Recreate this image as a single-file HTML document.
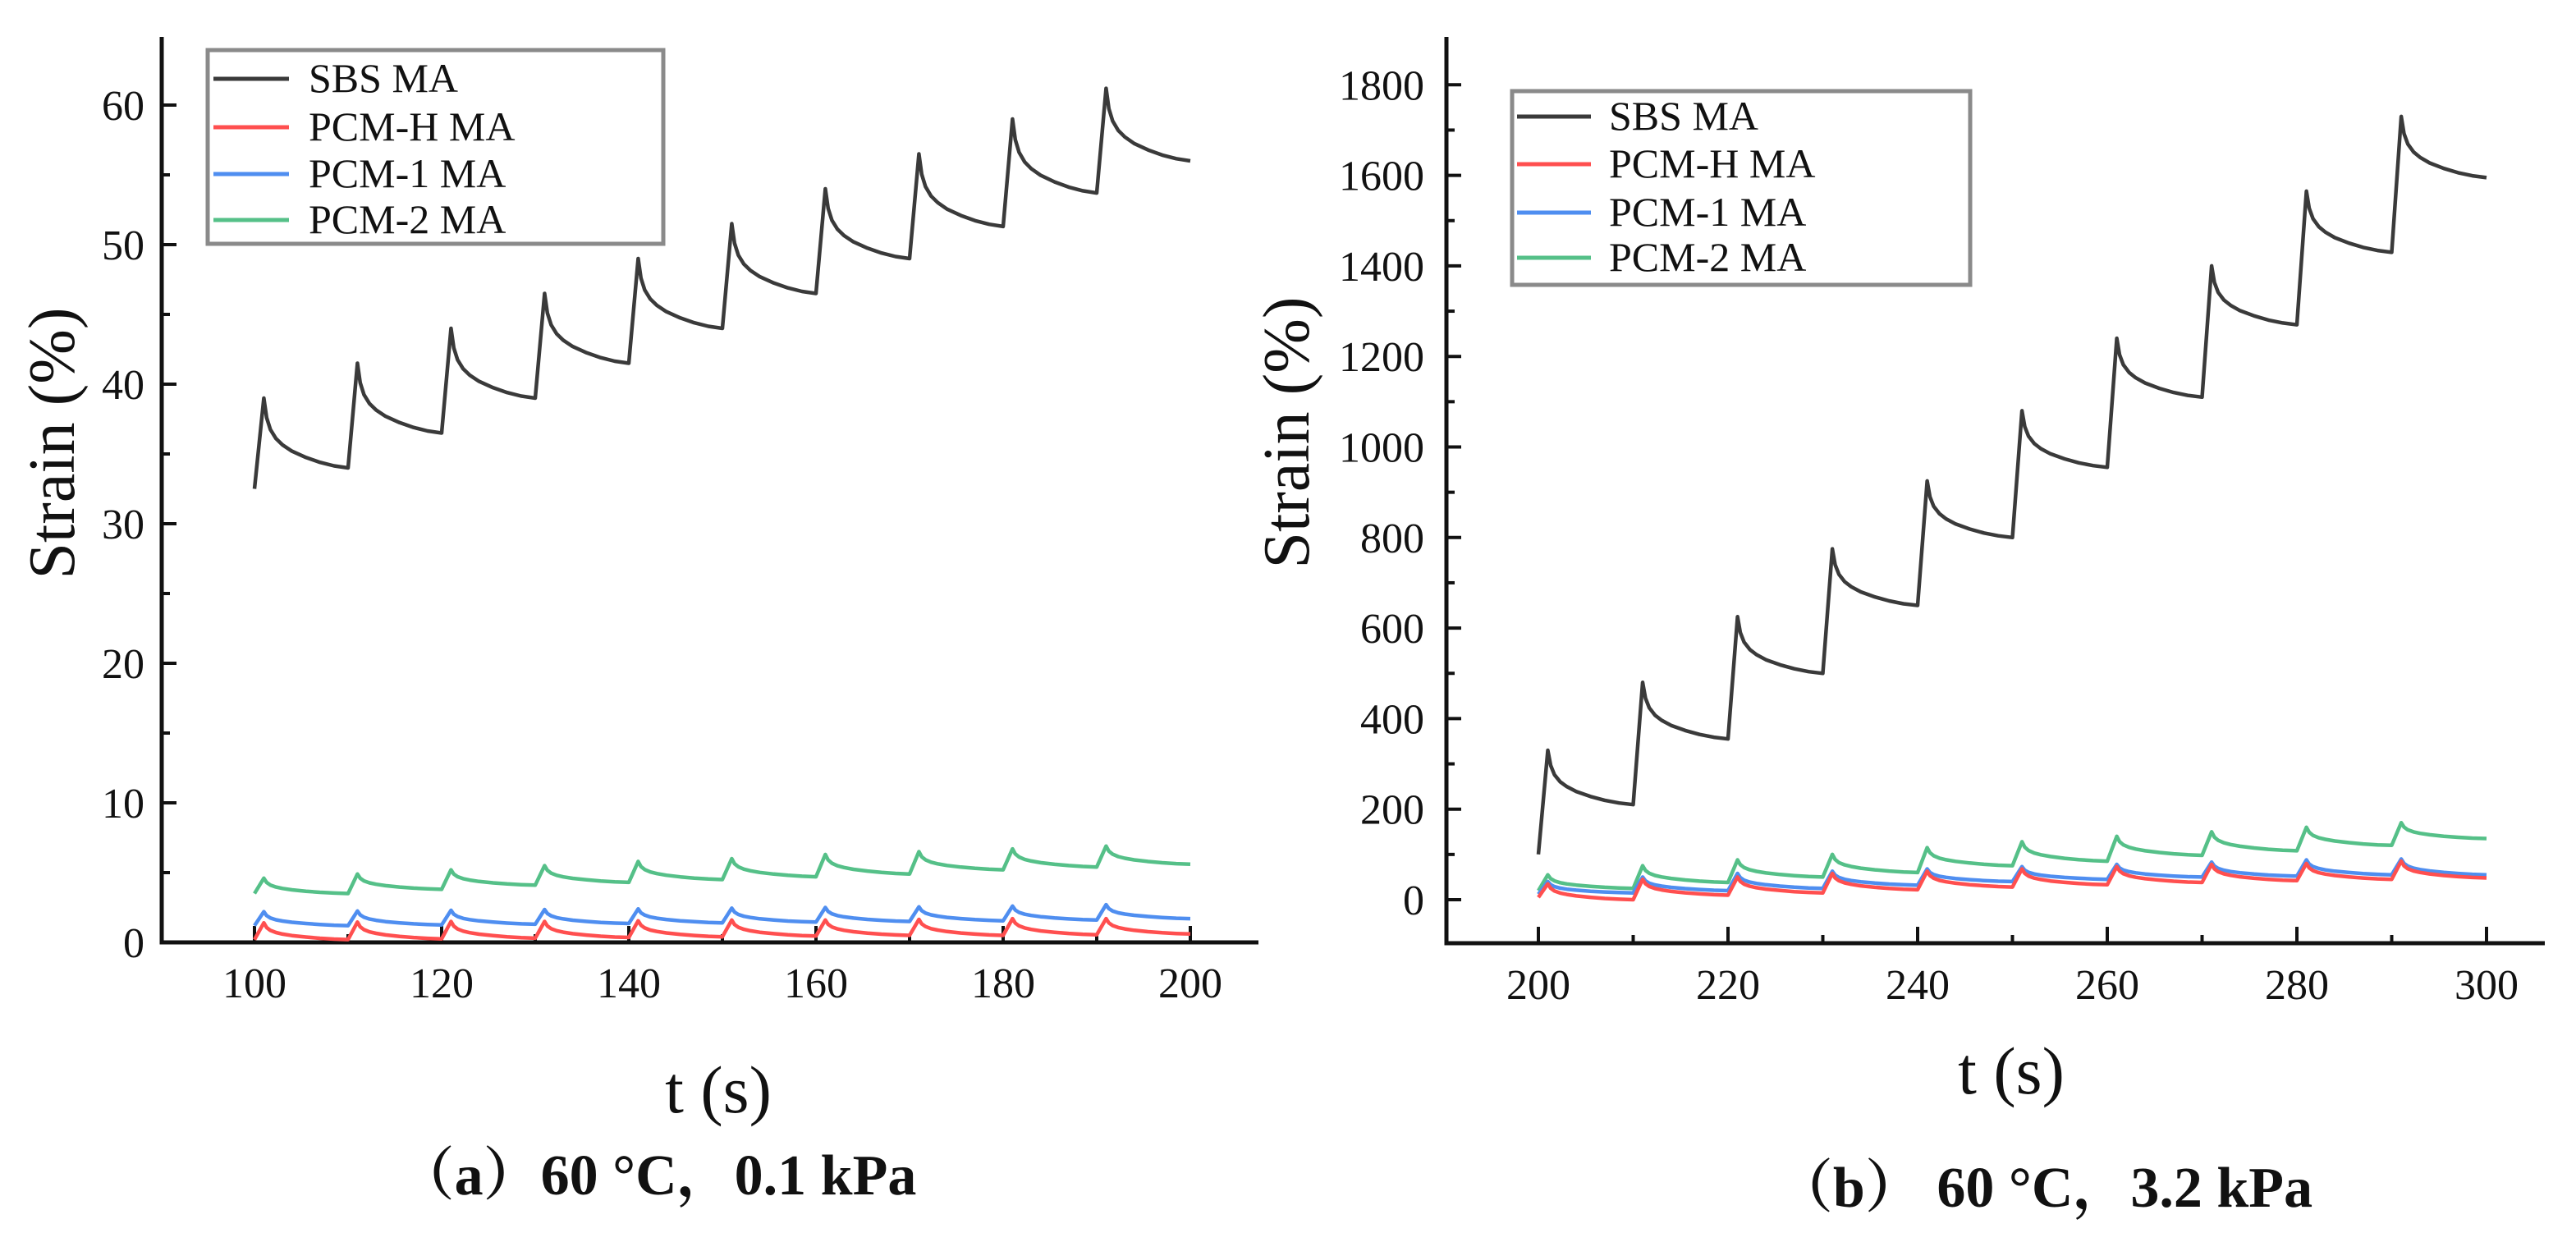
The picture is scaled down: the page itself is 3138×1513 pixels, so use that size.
<!DOCTYPE html>
<html><head><meta charset="utf-8">
<style>
html,body{margin:0;padding:0;background:#fff;}
svg{display:block;}
text{font-family:"Liberation Serif","Noto Serif CJK SC",serif;fill:#111;}
</style></head>
<body>
<svg id="fig" width="3138" height="1513" viewBox="0 0 3138 1513" xmlns="http://www.w3.org/2000/svg">
</svg>
<script>
// ---- Panel (a) data: 60 °C, 0.1 kPa ----
const aTimeStart = 100;
const aSBSStart = 32.5;
const aSBSPeaks = [39, 41.5, 44, 46.5, 49, 51.5, 54, 56.5, 59, 61.2];
const aSBSEnds  = [34, 36.5, 39, 41.5, 44, 46.5, 49, 51.3, 53.7, 56];
const aHStart = 0.2;
const aHPeaks = [1.4, 1.45, 1.5, 1.5, 1.55, 1.6, 1.6, 1.65, 1.7, 1.7];
const aHEnds  = [0.2, 0.25, 0.3, 0.35, 0.4, 0.45, 0.5, 0.5, 0.55, 0.6];
const a1Start = 1.2;
const a1Peaks = [2.2, 2.25, 2.3, 2.35, 2.4, 2.45, 2.5, 2.55, 2.6, 2.7];
const a1Ends  = [1.2, 1.25, 1.3, 1.35, 1.4, 1.45, 1.5, 1.55, 1.6, 1.7];
const a2Start = 3.5;
const a2Peaks = [4.6, 4.9, 5.2, 5.5, 5.8, 6.0, 6.3, 6.5, 6.7, 6.9];
const a2Ends  = [3.5, 3.8, 4.1, 4.3, 4.5, 4.7, 4.9, 5.2, 5.4, 5.6];
const aXTicks = [100, 120, 140, 160, 180, 200];
const aYTicks = [0, 10, 20, 30, 40, 50, 60];

// ---- Panel (b) data: 60 °C, 3.2 kPa ----
const bTimeStart = 200;
const bSBSStart = 100;
const bSBSPeaks = [330, 480, 625, 775, 925, 1080, 1240, 1400, 1565, 1730];
const bSBSEnds  = [210, 355, 500, 650, 800, 955, 1110, 1270, 1430, 1595];
const bHStart = 5;
const bHPeaks = [35, 45, 50, 58, 63, 68, 73, 78, 80, 85];
const bHEnds  = [0, 10, 15, 22, 28, 33, 38, 42, 45, 48];
const b1Start = 12;
const b1Peaks = [40, 50, 58, 63, 68, 73, 78, 83, 88, 90];
const b1Ends  = [15, 20, 25, 32, 40, 45, 50, 52, 55, 55];
const b2Start = 20;
const b2Peaks = [55, 75, 88, 100, 115, 128, 140, 150, 160, 170];
const b2Ends  = [25, 38, 50, 60, 75, 85, 98, 108, 120, 135];
const bXTicks = [200, 220, 240, 260, 280, 300];
const bYTicks = [0, 200, 400, 600, 800, 1000, 1200, 1400, 1600, 1800];

const seriesNames = ["SBS MA", "PCM-H MA", "PCM-1 MA", "PCM-2 MA"];
const COLORS = ["#3a3a3a", "#ff4f4f", "#4f8ef0", "#55c088"];
const NS = "http://www.w3.org/2000/svg";
const svg = document.getElementById("fig");

function mk(tag, attrs, parent) {
  const e = document.createElementNS(NS, tag);
  for (const k in attrs) e.setAttribute(k, attrs[k]);
  (parent || svg).appendChild(e);
  return e;
}
const decayDt = [0, 0.3, 0.7, 1.3, 2, 3, 4.5, 6, 7.5, 9];
const decayFr = [0, 0.28, 0.45, 0.58, 0.67, 0.76, 0.85, 0.92, 0.97, 1];

function buildPanel(p) {
  const g = mk("g", {});
  
  
  const X = t => p.x0 + (t - p.t0) * p.xs;
  const Y = v => p.y0 - v * p.ys;
  const ax = mk("path", {d: `M${p.axX},${p.axTop} V${p.axBot} H${p.axRight}`, fill: "none", stroke: "#111", "stroke-width": 5}, g);
  
  
  const yStep = p.yTicks[1] - p.yTicks[0];
  for (let i = 0; i < p.yTicks.length; i++) {
    const v = p.yTicks[i];
    const tk = mk("line", {x1: p.axX, x2: p.axX + 18, y1: Y(v), y2: Y(v), stroke: "#111", "stroke-width": 4}, g);
    
    
    const mv = v + yStep / 2;
    if (Y(mv) > p.axTop + 5) {
      const mt = mk("line", {x1: p.axX, x2: p.axX + 10, y1: Y(mv), y2: Y(mv), stroke: "#111", "stroke-width": 4}, g);
      
      
    }
    if (i === 0 && Y(v - yStep / 2) < p.axBot - 5) {
      const mt2 = mk("line", {x1: p.axX, x2: p.axX + 10, y1: Y(v - yStep / 2), y2: Y(v - yStep / 2), stroke: "#111", "stroke-width": 4}, g);
      
      
    }
    const lb = mk("text", {x: p.yLabX, y: Y(v) + 18, "text-anchor": "end", "font-size": 52}, g);
    lb.textContent = v;
    
    
  }
  const xStep = p.xTicks[1] - p.xTicks[0];
  for (let i = 0; i < p.xTicks.length; i++) {
    const t = p.xTicks[i];
    const tk = mk("line", {x1: X(t), x2: X(t), y1: p.axBot, y2: p.axBot - 20, stroke: "#111", "stroke-width": 4}, g);
    
    
    if (i < p.xTicks.length - 1) {
      const mt = mk("line", {x1: X(t + xStep / 2), x2: X(t + xStep / 2), y1: p.axBot, y2: p.axBot - 10, stroke: "#111", "stroke-width": 4}, g);
      
      
    }
    const lb = mk("text", {x: X(t), y: p.xLabY, "text-anchor": "middle", "font-size": 52}, g);
    lb.textContent = t;
    
    
  }
  for (let s = p.series.length - 1; s >= 0; s--) {
    const sr = p.series[s];
    let pts = [[p.t0, sr.start]];
    let prev = sr.start;
    for (let c = 0; c < sr.peaks.length; c++) {
      const tc = p.t0 + 10 * c;
      if (c > 0) pts.push([tc, prev]);
      const pk = sr.peaks[c], en = sr.ends[c];
      for (let k = 0; k < decayDt.length; k++) {
        pts.push([tc + 1 + decayDt[k], pk - (pk - en) * decayFr[k]]);
      }
      prev = en;
    }
    const d = pts.map((q, i) => (i ? "L" : "M") + X(q[0]).toFixed(1) + "," + Y(q[1]).toFixed(1)).join(" ");
    const path = mk("path", {d: d, fill: "none", stroke: COLORS[s], "stroke-width": 4.5, "stroke-linejoin": "round"}, g);
    
    
  }
  const L = p.legend;
  const box = mk("rect", {x: L.x, y: L.y, width: L.w, height: L.h, fill: "#fff", stroke: "#8a8a8a", "stroke-width": 5}, g);
  
  
  for (let i = 0; i < seriesNames.length; i++) {
    const ry = L.rows[i];
    const ln = mk("line", {x1: L.lx1, x2: L.lx2, y1: ry, y2: ry, stroke: COLORS[i], "stroke-width": 5}, g);
    
    
    const tx = mk("text", {x: L.tx, y: ry + 16, "font-size": 50}, g);
    tx.textContent = seriesNames[i];
    
    
  }
  const yt = mk("text", {x: 0, y: 0, "text-anchor": "middle", "font-size": 80, transform: `translate(${p.yTitle[0]},${p.yTitle[1]}) rotate(-90)`}, g);
  yt.textContent = "Strain (%)";
  
  
  const xt = mk("text", {x: p.xTitle[0], y: p.xTitle[1], "text-anchor": "middle", "font-size": 82}, g);
  xt.textContent = "t (s)";
  
  
  const cp = mk("text", {x: p.cap[0], y: p.cap[1], "text-anchor": "middle", "font-size": 70, "font-weight": "bold"}, g);
  cp.textContent = p.capText;
  
  
}

buildPanel({
  name: "panel-a", t0: aTimeStart, x0: 310, xs: 11.4, y0: 1148, ys: 17.0,
  axX: 197, axTop: 45, axBot: 1148, axRight: 1533, yLabX: 176, xLabY: 1215,
  xTicks: aXTicks, yTicks: aYTicks,
  series: [
    {start: aSBSStart, peaks: aSBSPeaks, ends: aSBSEnds},
    {start: aHStart, peaks: aHPeaks, ends: aHEnds},
    {start: a1Start, peaks: a1Peaks, ends: a1Ends},
    {start: a2Start, peaks: a2Peaks, ends: a2Ends}],
  legend: {x: 253, y: 61, w: 555, h: 236, rows: [96, 155, 212, 268], lx1: 260, lx2: 352, tx: 376},
  yTitle: [90, 540], xTitle: [875, 1355], cap: [800, 1455], capText: "（a）60 °C，0.1 kPa"
});
buildPanel({
  name: "panel-b", t0: bTimeStart, x0: 1874, xs: 11.55, y0: 1096, ys: 0.5515,
  axX: 1762, axTop: 45, axBot: 1149, axRight: 3100, yLabX: 1735, xLabY: 1217,
  xTicks: bXTicks, yTicks: bYTicks,
  series: [
    {start: bSBSStart, peaks: bSBSPeaks, ends: bSBSEnds},
    {start: bHStart, peaks: bHPeaks, ends: bHEnds},
    {start: b1Start, peaks: b1Peaks, ends: b1Ends},
    {start: b2Start, peaks: b2Peaks, ends: b2Ends}],
  legend: {x: 1842, y: 111, w: 558, h: 236, rows: [142, 200, 259, 314], lx1: 1848, lx2: 1938, tx: 1960},
  yTitle: [1594, 527], xTitle: [2450, 1332], cap: [2490, 1470], capText: "（b） 60 °C，3.2 kPa"
});
</script>
</body></html>
